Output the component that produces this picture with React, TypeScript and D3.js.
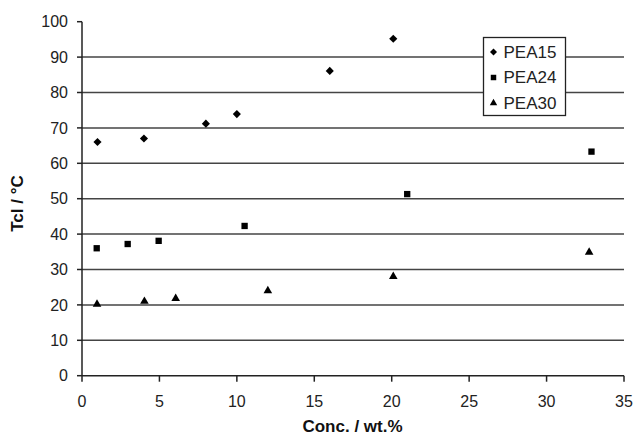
import React from 'react';
import * as d3 from 'd3';

// Data
const pea15X = [1, 4, 8, 10, 16, 20.1];
const pea15Y = [66, 67, 71.2, 73.9, 86.1, 95.2];
const pea24X = [0.95, 2.95, 4.95, 10.5, 21, 32.9];
const pea24Y = [36, 37.2, 38.1, 42.3, 51.3, 63.3];
const pea30X = [0.97, 4.03, 6.05, 12, 20.1, 32.75];
const pea30Y = [20.2, 21, 21.8, 24, 28, 34.9];

const xTicks = [0, 5, 10, 15, 20, 25, 30, 35];
const yTicks = [0, 10, 20, 30, 40, 50, 60, 70, 80, 90, 100];

const series = [
  { name: 'PEA15', xs: pea15X, ys: pea15Y, symbol: d3.symbolDiamond2, size: 42 },
  { name: 'PEA24', xs: pea24X, ys: pea24Y, symbol: d3.symbolSquare, size: 40 },
  { name: 'PEA30', xs: pea30X, ys: pea30Y, symbol: d3.symbolTriangle, size: 32 },
];

const W = 637;
const H = 437;
const font = 'Liberation Sans, Arial, sans-serif';

export default function App() {
  const x = d3.scaleLinear().domain([0, 35]).range([82, 624]);
  const y = d3.scaleLinear().domain([0, 100]).range([375.7, 21.7]);

  return (
    <svg width={W} height={H} style={{ position: 'absolute', left: 0, top: 0, background: '#fff' }}>
      <rect width={W} height={H} fill="#fff" />
      {/* gridlines */}
      {yTicks.filter(t => t > 0 && t < 100).map(t => (
        <line key={'g' + t} x1={x(0)} x2={x(35)} y1={y(t)} y2={y(t)} stroke="#444" strokeWidth={1.5} />
      ))}
      {/* y axis */}
      <line x1={x(0)} x2={x(0)} y1={y(0)} y2={y(100)} stroke="#222" strokeWidth={1.5} />
      {yTicks.map(t => (
        <g key={'y' + t}>
          <line x1={x(0) - 5} x2={x(0)} y1={y(t)} y2={y(t)} stroke="#222" strokeWidth={1.5} />
          <text x={68} y={y(t)} dy="0.35em" textAnchor="end" fontFamily={font} fontSize={16} fill="#222">{t}</text>
        </g>
      ))}
      {/* x axis */}
      <line x1={x(0)} x2={x(35)} y1={y(0)} y2={y(0)} stroke="#222" strokeWidth={1.5} />
      {xTicks.map(t => (
        <g key={'x' + t}>
          <line x1={x(t)} x2={x(t)} y1={y(0)} y2={y(0) + 6} stroke="#222" strokeWidth={1.5} />
          <text x={x(t)} y={401} dy="0.35em" textAnchor="middle" fontFamily={font} fontSize={16} fill="#222">{t}</text>
        </g>
      ))}
      {/* axis titles */}
      <text x={352.5} y={426} dy="0.35em" textAnchor="middle" fontFamily={font} fontSize={17} fontWeight="bold" fill="#111">Conc. / wt.%</text>
      <text transform="translate(17,203.5) rotate(-90)" dy="0.35em" textAnchor="middle" fontFamily={font} fontSize={17} fontWeight="bold" fill="#111">Tcl / °C</text>
      {/* points */}
      {series.map(s => {
        const path = d3.symbol().type(s.symbol).size(s.size)() || '';
        return (
          <g key={s.name}>
            {s.xs.map((v, i) => (
              <path key={i} d={path} transform={`translate(${x(v)},${y(s.ys[i])})`} fill="#000" />
            ))}
          </g>
        );
      })}
      {/* legend */}
      <g>
        <rect x={483.5} y={37.5} width={82} height={78} fill="#fff" stroke="#222" strokeWidth={1.3} />
        {series.map((s, i) => {
          const cy = 52 + i * 25.5;
          const path = d3.symbol().type(s.symbol).size(s.size * 0.75)() || '';
          return (
            <g key={'l' + s.name}>
              <path d={path} transform={`translate(493.5,${cy})`} fill="#000" />
              <text x={503.5} y={cy} dy="0.35em" fontFamily={font} fontSize={17} fill="#222">{s.name}</text>
            </g>
          );
        })}
      </g>
    </svg>
  );
}
